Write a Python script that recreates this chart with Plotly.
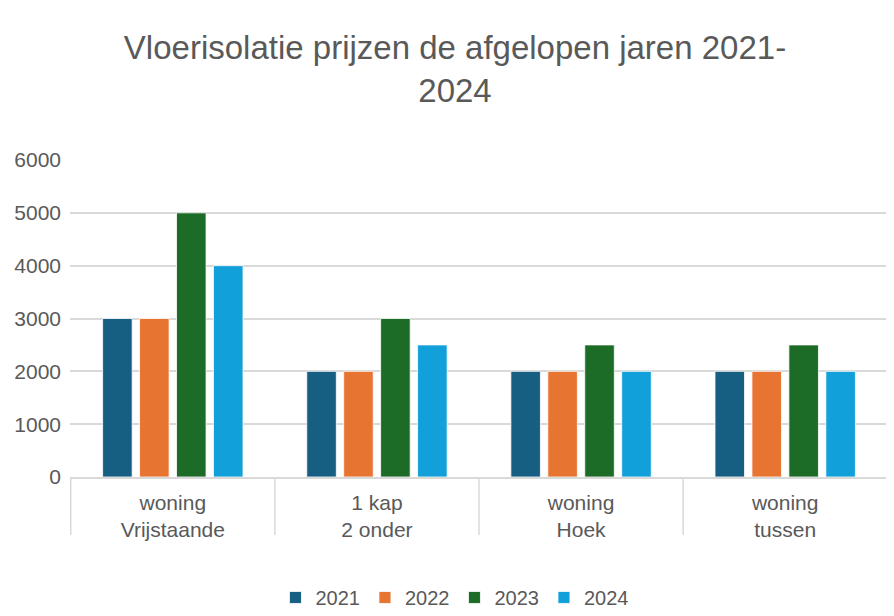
import plotly.graph_objects as go

categories = ["woning<br>Vrijstaande", "1 kap<br>2 onder", "woning<br>Hoek", "woning<br>tussen"]
years = ["2021", "2022", "2023", "2024"]
values_2021 = [3000, 2000, 2000, 2000]
values_2022 = [3000, 2000, 2000, 2000]
values_2023 = [5000, 3000, 2500, 2500]
values_2024 = [4000, 2500, 2000, 2000]
series = [values_2021, values_2022, values_2023, values_2024]
colors = ["#175f82", "#e87432", "#1c6b26", "#11a0d9"]

FONT = "Liberation Sans Narrow, Arial Narrow, Liberation Sans, Arial, sans-serif"
TXT = "#595959"
GRID = "#d9d9d9"

fig = go.Figure()
for name, vals, col in zip(years, series, colors):
    fig.add_trace(go.Bar(
        x=categories, y=vals, name=name,
        marker=dict(color=col, line=dict(color="white", width=0.8)),
    ))

# category divider lines (Excel-style tick marks between categories)
for i in range(len(categories) + 1):
    fig.add_shape(type="line", xref="x", yref="paper",
                  x0=i - 0.5, x1=i - 0.5, y0=0, y1=-0.183,
                  line=dict(color=GRID, width=1.5), layer="below")

fig.update_layout(
    width=894, height=616,
    paper_bgcolor="white", plot_bgcolor="white",
    margin=dict(l=62, r=14, t=152, b=147, autoexpand=False),
    font=dict(family=FONT, color=TXT),
    title=dict(
        text="Vloerisolatie prijzen de afgelopen jaren 2021-<br>2024",
        x=0.5, xanchor="center", y=0.917, yanchor="top",
        font=dict(size=33, color=TXT, family=FONT),
    ),
    barmode="group", bargap=0.276, bargroupgap=0.2,
    showlegend=True,
    legend=dict(orientation="h", x=0.47, xanchor="center",
                y=-0.38, yanchor="middle",
                font=dict(size=20, color=TXT, family=FONT),
                traceorder="normal"),
    xaxis=dict(
        showgrid=False, showline=True, linecolor=GRID, linewidth=1.5,
        ticks="", tickangle=0, tickfont=dict(size=21, color=TXT, family=FONT),
        ticklabelstandoff=6,
    ),
    yaxis=dict(
        range=[0, 6000], dtick=1000, showgrid=True, gridcolor=GRID, gridwidth=1.5,
        zeroline=False, showline=False, ticks="",
        tickfont=dict(size=21, color=TXT, family=FONT),
        ticklabelstandoff=8,
    ),
)

fig.write_html("out.html")
